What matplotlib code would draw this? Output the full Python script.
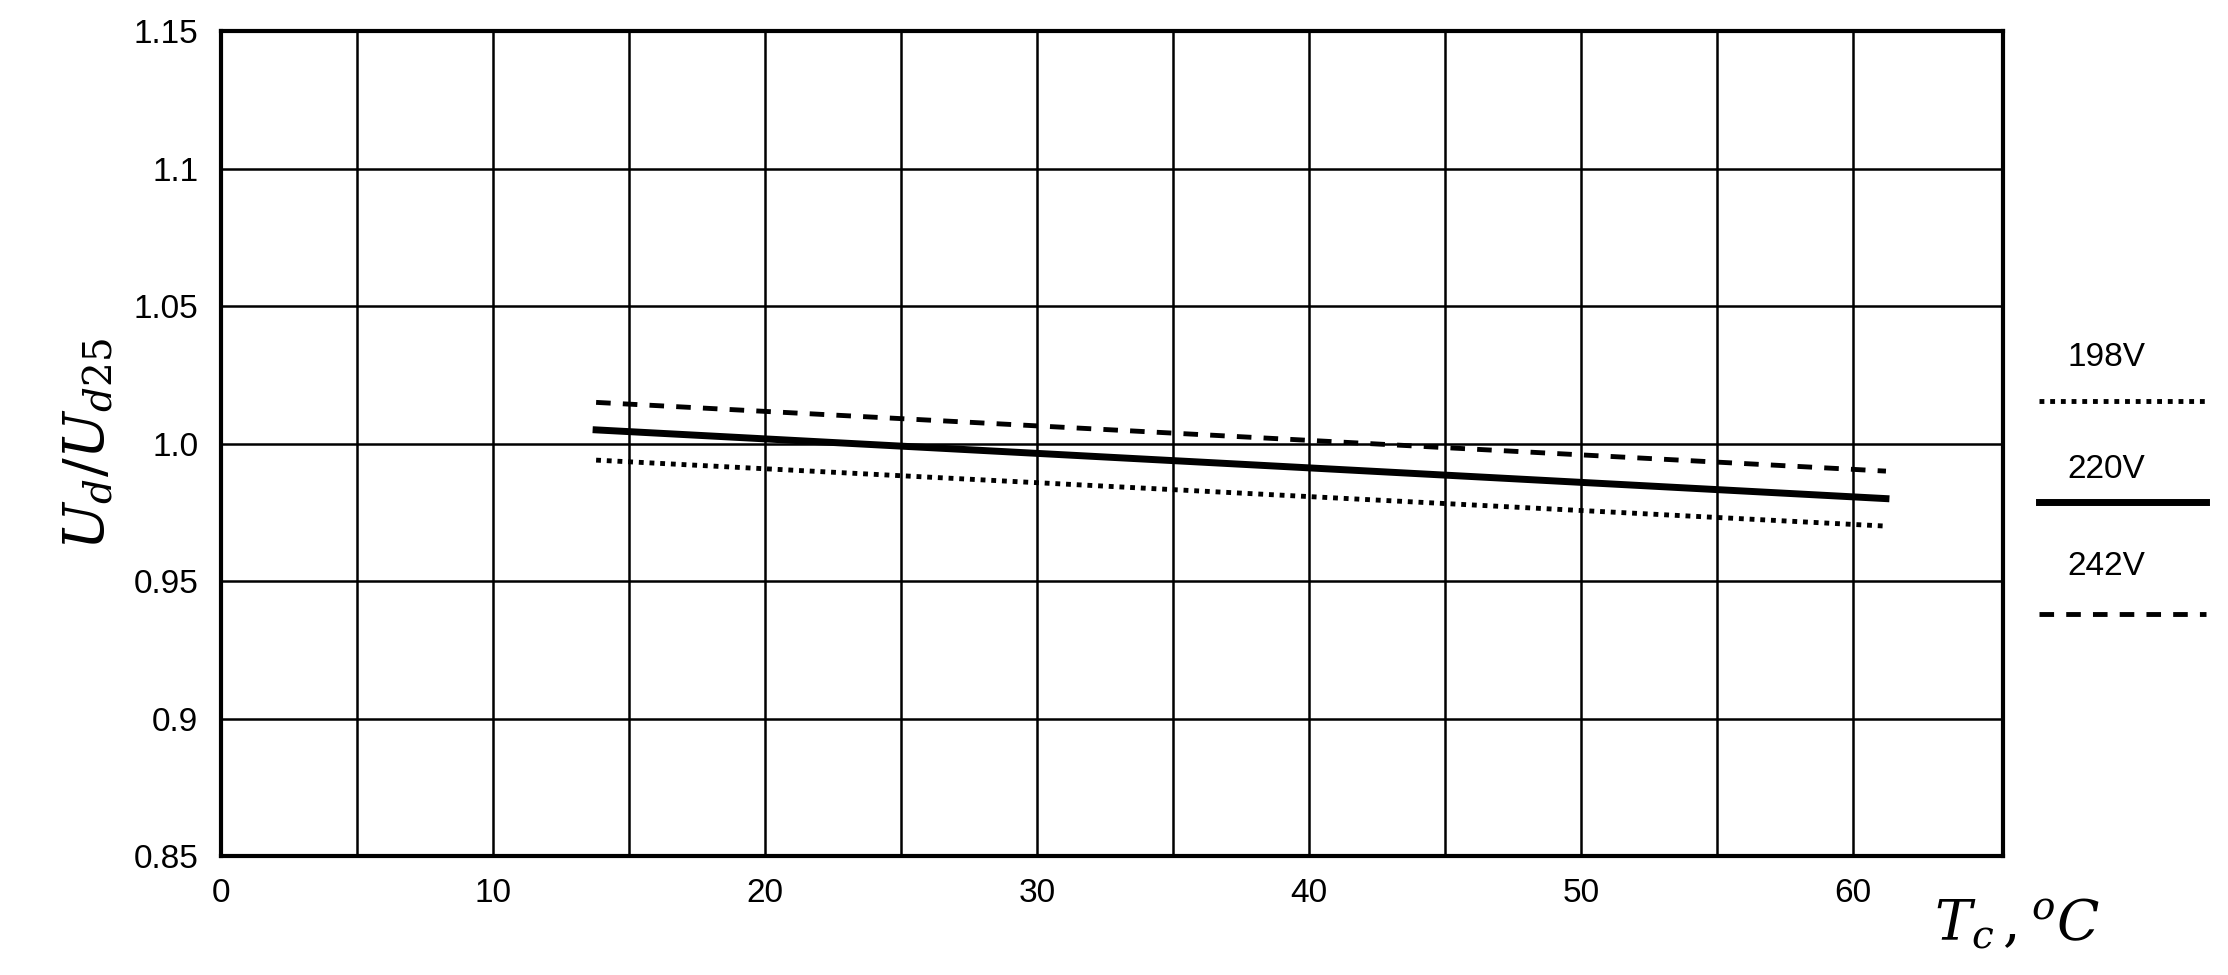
import matplotlib.pyplot as plt
from matplotlib.lines import Line2D
import numpy as np

plt.rcParams["font.family"] = ["Liberation Sans", "DejaVu Sans"]
plt.rcParams["mathtext.fontset"] = "dejavuserif"

# values
temps = [13.8, 61.2]
u_198 = [0.994, 0.970]
u_220 = [1.005, 0.980]
u_242 = [1.015, 0.990]
xgrid = [0, 5, 10, 15, 20, 25, 30, 35, 40, 45, 50, 55, 60]
yticks = [0.85, 0.9, 0.95, 1.0, 1.05, 1.1, 1.15]
ytick_labels = ["0.85", "0.9", "0.95", "1.0", "1.05", "1.1", "1.15"]

fig = plt.figure(figsize=(22.28, 9.75), dpi=100)
ax = fig.add_axes([0.099, 0.122, 0.80, 0.846])

ax.plot(temps, u_198, color="black", lw=3.5, ls=(0, (1, 1.2)))
ax.plot(temps, u_220, color="black", lw=5)
ax.plot(temps, u_242, color="black", lw=3.5, ls=(0, (3, 2.5)))

ax.set_xlim(0, 65.5)
ax.set_ylim(0.85, 1.15)
ax.set_xticks(xgrid)
ax.set_xticklabels([str(t) if t % 10 == 0 else "" for t in xgrid])
ax.set_yticks(yticks)
ax.set_yticklabels(ytick_labels)
ax.grid(True, color="black", lw=1.8)
ax.tick_params(length=0, labelsize=24, pad=16)
for s in ax.spines.values():
    s.set_linewidth(3)

ax.set_ylabel(r"$U_d/U_{d25}$", fontsize=40, labelpad=12)
fig.text(0.868, 0.035, r"$T_c\,,^oC$", fontsize=40)

# legend outside on the right
lx0, lx1 = 0.915, 0.99
legend = [("198V", (0, (1, 1.2)), 3.5, 0.625, 0.589),
          ("220V", "-", 5, 0.51, 0.485),
          ("242V", (0, (3, 2.5)), 3.5, 0.41, 0.37)]
for label, ls, lw, ty, ly in legend:
    fig.text(0.928, ty, label, fontsize=24)
    fig.add_artist(Line2D([lx0, lx1], [ly, ly], color="black", lw=lw, ls=ls,
                          transform=fig.transFigure))

fig.savefig("out.png")
